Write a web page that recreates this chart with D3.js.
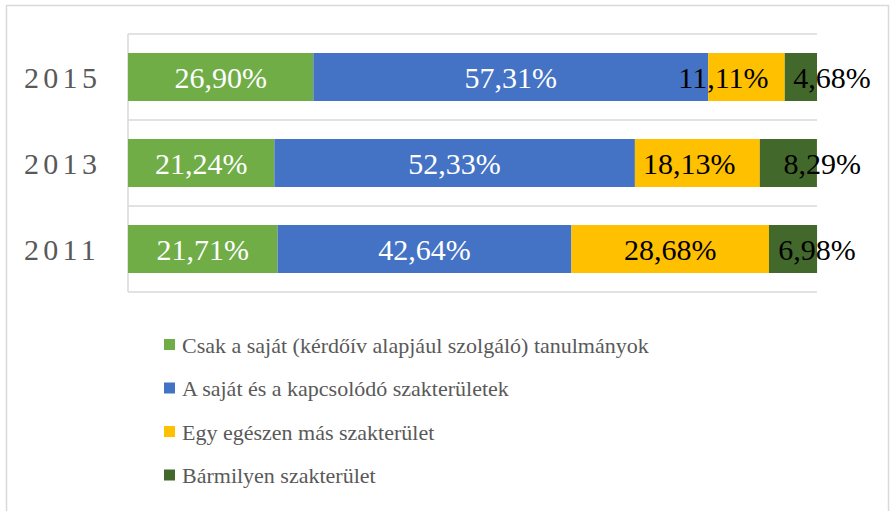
<!DOCTYPE html>
<html>
<head>
  <meta charset="utf-8">
  <title>Stacked bars</title>
  <style>
    body { margin: 0; background: #fff; }
    text { font-family: "Liberation Serif", "DejaVu Serif", serif; }
  </style>
</head>
<body>
<script src="https://cdnjs.cloudflare.com/ajax/libs/d3/7.8.5/d3.min.js"></script>
<svg id="chart" width="891" height="511"></svg>

<script>
    // adatok
    var years = ["2015", "2013", "2011"];
    var seriesNames = [
        "Csak a saját (kérdőív alapjául szolgáló) tanulmányok",
        "A saját és a kapcsolódó szakterületek",
        "Egy egészen más szakterület",
        "Bármilyen szakterület"
    ];
    var sajat     = [26.90, 21.24, 21.71];
    var kapcsolodo = [57.31, 52.33, 42.64];
    var mas       = [11.11, 18.13, 28.68];
    var barmilyen = [4.68, 8.29, 6.98];

    var colors = ["#70ad47", "#4472c4", "#ffc000", "#43682b"];
    var labelColors = ["#fff", "#fff", "#000", "#000"];
    // kézzel arrébb húzott címkék (px), évenként, sorozatonként
    var labelNudge = [[0, 0, -23, 31], [0, 0, -8, 34], [0, 0, 0, 24]];

    var rows = years.map(function(y, i) {
        return { year: y, idx: i, s0: sajat[i], s1: kapcsolodo[i], s2: mas[i], s3: barmilyen[i] };
    });
    var keys = ["s0", "s1", "s2", "s3"];

    var svg = d3.select("#chart");

    // keret
    svg.append("rect")
        .attr("x", 6.5).attr("y", 5.5)
        .attr("width", 882).attr("height", 520)
        .attr("fill", "none").attr("stroke", "#d9d9d9").attr("stroke-width", 1.5);

    var x = d3.scaleLinear().domain([0, 100]).range([128, 817]);
    var y = d3.scaleBand().domain(years).range([34, 292])
              .paddingInner(0.442).paddingOuter(0.221);

    // vízszintes rácsvonalak a kategóriák határán
    var bounds = d3.range(years.length + 1).map(function(i) { return 34 + i * y.step(); });
    svg.selectAll("line.grid").data(bounds).enter().append("line")
        .attr("class", "grid")
        .attr("x1", x(0)).attr("x2", x(100))
        .attr("y1", function(d) { return d; }).attr("y2", function(d) { return d; })
        .attr("stroke", "#d9d9d9").attr("stroke-width", 1.5);

    svg.append("line")
        .attr("x1", x(0)).attr("x2", x(0))
        .attr("y1", 34).attr("y2", 292)
        .attr("stroke", "#d9d9d9").attr("stroke-width", 1.5);

    var stack = d3.stack().keys(keys);
    var layers = stack(rows);

    var groups = svg.selectAll("g.layer").data(layers).enter().append("g")
        .attr("class", "layer")
        .attr("fill", function(d, i) { return colors[i]; });

    groups.selectAll("rect").data(function(d) { return d; }).enter().append("rect")
        .attr("x", function(d) { return x(d[0]); })
        .attr("y", function(d) { return y(d.data.year); })
        .attr("width", function(d) { return x(d[1]) - x(d[0]); })
        .attr("height", y.bandwidth());

    groups.each(function(layer, li) {
        d3.select(this).selectAll("text").data(layer).enter().append("text")
            .attr("x", function(d) { return (x(d[0]) + x(d[1])) / 2 + labelNudge[d.data.idx][li]; })
            .attr("y", function(d) { return y(d.data.year) + y.bandwidth() / 2; })
            .attr("dy", "0.35em")
            .attr("text-anchor", "middle")
            .attr("fill", labelColors[li])
            .style("font-size", "30px")
            .text(function(d) { return (d[1] - d[0]).toFixed(2).replace(".", ",") + "%"; });
    });

    // évszámok
    svg.selectAll("text.year").data(years).enter().append("text")
        .attr("class", "year")
        .attr("x", 24)
        .attr("y", function(d) { return y(d) + y.bandwidth() / 2; })
        .attr("dy", "0.35em")
        .attr("fill", "#595959")
        .style("font-size", "30px")
        .style("letter-spacing", "4.3px")
        .text(function(d) { return d; });

    // jelmagyarázat
    var legend = svg.selectAll("g.legend").data(seriesNames).enter().append("g")
        .attr("class", "legend")
        .attr("transform", function(d, i) { return "translate(164," + (345 + i * 43.5) + ")"; });

    legend.append("rect")
        .attr("x", 0).attr("y", -6)
        .attr("width", 11).attr("height", 11)
        .attr("fill", function(d, i) { return colors[i]; });

    legend.append("text")
        .attr("x", 18).attr("dy", "0.35em")
        .attr("fill", "#595959")
        .style("font-size", "22px")
        .text(function(d) { return d; });
</script>
</body>
</html>
